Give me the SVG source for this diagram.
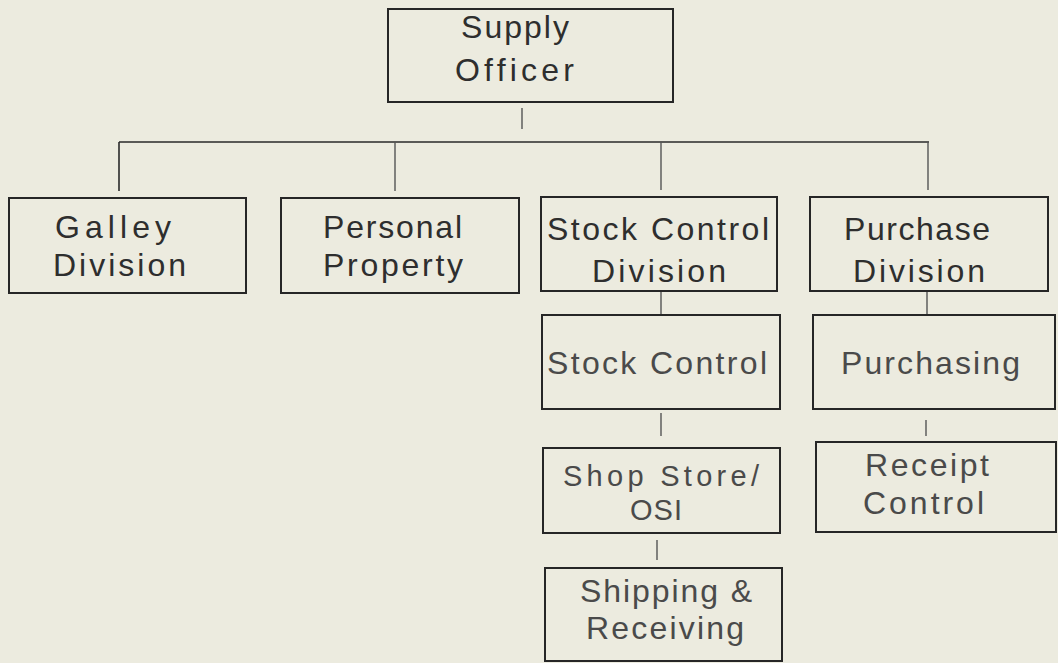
<svg xmlns="http://www.w3.org/2000/svg" width="1058" height="663" viewBox="0 0 1058 663">
<style>
.bg{fill:#ecebdf}
.box{fill:none;stroke:#262626;stroke-width:2}
.lbl{font-family:"Liberation Sans",Arial,sans-serif;font-size:32px;fill:#2e2e2e}
.sm{font-size:29px}
.fd{fill:#4a4a4a}
.ln{stroke:#2a2a2a;stroke-width:1.6;fill:none}
.lf{stroke:#555;stroke-width:1.4;fill:none}
</style>
<rect class="bg" x="0" y="0" width="1058" height="663"/>
<g id="connectors">
<line class="lf" x1="522" y1="108" x2="522" y2="129"/>
<line class="ln" x1="119" y1="142" x2="929" y2="142"/>
<line class="ln" x1="119" y1="142" x2="119" y2="191"/>
<line class="lf" x1="395" y1="142" x2="395" y2="191"/>
<line class="lf" x1="661" y1="142" x2="661" y2="190"/>
<line class="lf" x1="928" y1="142" x2="928" y2="190"/>
<line class="lf" x1="661" y1="291" x2="661" y2="315"/>
<line class="lf" x1="927" y1="291" x2="927" y2="315"/>
<line class="lf" x1="661" y1="413" x2="661" y2="436"/>
<line class="lf" x1="926" y1="420" x2="926" y2="436"/>
<line class="lf" x1="657" y1="540" x2="657" y2="560"/>
</g>
<g id="supply-officer">
<rect class="box" x="388" y="9" width="285" height="93"/>
<text class="lbl" x="461" y="38" textLength="108" lengthAdjust="spacing">Supply</text>
<text class="lbl" x="455" y="81" textLength="119" lengthAdjust="spacing">Officer</text>
</g>
<g id="galley-division">
<rect class="box" x="9" y="198" width="237" height="95"/>
<text class="lbl" x="55" y="238" textLength="116" lengthAdjust="spacing">Galley</text>
<text class="lbl" x="53" y="276" textLength="133" lengthAdjust="spacing">Division</text>
</g>
<g id="personal-property">
<rect class="box" x="281" y="198" width="238" height="95"/>
<text class="lbl" x="323" y="238" textLength="139" lengthAdjust="spacing">Personal</text>
<text class="lbl" x="323" y="276" textLength="140" lengthAdjust="spacing">Property</text>
</g>
<g id="stock-control-division">
<rect class="box" x="541" y="197" width="236" height="94"/>
<text class="lbl" x="547" y="240" textLength="222" lengthAdjust="spacing">Stock Control</text>
<text class="lbl" x="592" y="282" textLength="134" lengthAdjust="spacing">Division</text>
</g>
<g id="purchase-division">
<rect class="box" x="810" y="197" width="238" height="94"/>
<text class="lbl" x="844" y="240" textLength="146" lengthAdjust="spacing">Purchase</text>
<text class="lbl" x="853" y="282" textLength="132" lengthAdjust="spacing">Division</text>
</g>
<g id="stock-control">
<rect class="box" x="542" y="315" width="238" height="94"/>
<text class="lbl fd" x="547" y="374" textLength="220" lengthAdjust="spacing">Stock Control</text>
</g>
<g id="purchasing">
<rect class="box" x="813" y="315" width="242" height="94"/>
<text class="lbl fd" x="841" y="374" textLength="179" lengthAdjust="spacing">Purchasing</text>
</g>
<g id="shop-store-osi">
<rect class="box" x="543" y="448" width="237" height="85"/>
<text class="lbl sm fd" x="563" y="486" textLength="196" lengthAdjust="spacing">Shop Store/</text>
<text class="lbl sm fd" x="630" y="520" textLength="52" lengthAdjust="spacing">OSI</text>
</g>
<g id="receipt-control">
<rect class="box" x="816" y="442" width="240" height="90"/>
<text class="lbl fd" x="865" y="476" textLength="124" lengthAdjust="spacing">Receipt</text>
<text class="lbl fd" x="863" y="514" textLength="121" lengthAdjust="spacing">Control</text>
</g>
<g id="shipping-receiving">
<rect class="box" x="545" y="568" width="237" height="93"/>
<text class="lbl fd" x="580" y="602" textLength="172" lengthAdjust="spacing">Shipping &amp;</text>
<text class="lbl fd" x="586" y="639" textLength="158" lengthAdjust="spacing">Receiving</text>
</g>
</svg>
